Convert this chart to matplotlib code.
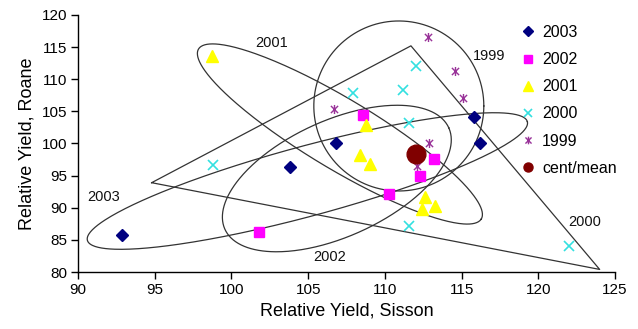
import numpy as np
import matplotlib
matplotlib.use("Agg")
import matplotlib.pyplot as plt
from matplotlib.path import Path
from matplotlib.lines import Line2D

plt.rcParams['font.family'] = ['Liberation Sans', 'DejaVu Sans']

# ---- data (Relative Yield, Sisson vs Roane) ----
x2003 = [92.9, 103.8, 106.8, 115.8, 116.2]
y2003 = [85.7, 96.3, 100.0, 104.2, 100.0]
x2002 = [101.8, 108.6, 113.2, 112.3, 110.3]
y2002 = [86.3, 104.5, 97.6, 95.0, 92.1]
x2001 = [98.75, 108.8, 108.4, 109.0, 112.6, 113.3, 112.4]
y2001 = [113.6, 102.9, 98.2, 96.8, 91.7, 90.3, 89.8]
x2000 = [98.8, 112.0, 107.9, 111.2, 111.6, 111.6, 122.0]
y2000 = [96.6, 112.0, 107.9, 108.3, 103.2, 87.2, 84.1]
x1999 = [112.8, 114.6, 115.1, 106.7, 112.9, 112.1]
y1999 = [116.5, 111.3, 107.1, 105.3, 100.0, 96.5]
cent_x = [112.0]
cent_y = [98.4]

# envelope ellipses: name, centre x, centre y, semi-major, semi-minor (x units, screen-true), angle (deg)
ell_names = ['2003', '2001', '2002', '1999']
ell_cx = [104.95, 107.07, 106.87, 110.91]
ell_cy = [94.16, 101.48, 94.55, 105.84]
ell_a = [14.85, 10.75, 8.01, 5.54]
ell_b = [2.28, 2.28, 3.78, 5.54]
ell_ang = [15.1, -31.0, 24.4, 0.0]

# 2000 envelope triangle
tri_x = [94.8, 111.7, 124.0]
tri_y = [93.9, 115.2, 80.4]

# envelope labels
lab_text = ['2001', '1999', '2003', '2002', '2000']
lab_x = [102.6, 116.8, 91.67, 106.4, 123.0]
lab_y = [115.6, 113.6, 91.6, 82.4, 87.8]

xticks = [90, 95, 100, 105, 110, 115, 120, 125]
yticks = [80, 85, 90, 95, 100, 105, 110, 115, 120]

# ---- figure ----
W, H, DPI = 6.38, 3.29, 100
fig = plt.figure(figsize=(W, H), dpi=DPI)
pos = [78 / 638, (329 - 272) / 329, (615 - 78) / 638, (272 - 15) / 329]
ax = fig.add_axes(pos)
ax.set_xlim(90, 125)
ax.set_ylim(80, 120)

# screen aspect: pixels per x unit / pixels per y unit
ppx = W * DPI * pos[2] / 35.0
ppy = H * DPI * pos[3] / 40.0
ratio = ppx / ppy

edge = '#333333'
t = np.linspace(0, 2 * np.pi, 400)
for cx, cy, a, b, ang in zip(ell_cx, ell_cy, ell_a, ell_b, ell_ang):
    th = np.radians(ang)
    dx = a * np.cos(t) * np.cos(th) - b * np.sin(t) * np.sin(th)
    dy = (a * np.cos(t) * np.sin(th) + b * np.sin(t) * np.cos(th)) * ratio
    ax.plot(cx + dx, cy + dy, color=edge, lw=0.9, zorder=2)

ax.plot(tri_x + tri_x[:1], tri_y + tri_y[:1], color=edge, lw=0.9, zorder=2)

for s, xx, yy in zip(lab_text, lab_x, lab_y):
    ax.text(xx, yy, s, ha='center', va='center', fontsize=10.5, color='#111111', zorder=3)

star = Path([(-1, -1), (1, 1), (-1, 1), (1, -1), (0, -1.25), (0, 1.25)],
            [Path.MOVETO, Path.LINETO, Path.MOVETO, Path.LINETO, Path.MOVETO, Path.LINETO])

c2003, c2002, c2001, c2000, c1999, ccent = '#000080', '#FF00FF', '#FFFF00', '#33E0E0', '#993399', '#800000'

ax.plot(x2003, y2003, 'D', color=c2003, ms=6, ls='none', zorder=4)
ax.plot(x2002, y2002, 's', color=c2002, ms=6.5, ls='none', zorder=4)
ax.plot(x2001, y2001, '^', color=c2001, ms=8, ls='none', zorder=4)
ax.plot(x2000, y2000, 'x', color=c2000, ms=6.5, mew=1.2, ls='none', zorder=4)
ax.plot(x1999, y1999, marker=star, color=c1999, ms=6.5, mew=1.0, ls='none', zorder=4)
ax.plot(cent_x, cent_y, 'o', color=ccent, ms=13.5, ls='none', zorder=5)

ax.spines['top'].set_visible(False)
ax.spines['right'].set_visible(False)
for sp in ('left', 'bottom'):
    ax.spines[sp].set_linewidth(1.0)
    ax.spines[sp].set_color('black')
ax.set_xticks(xticks)
ax.set_yticks(yticks)
ax.tick_params(direction='out', length=5, width=1.0, labelsize=11, color='black', pad=3)
ax.set_xlabel('Relative Yield, Sisson', fontsize=13, labelpad=4)
ax.set_ylabel('Relative Yield, Roane', fontsize=13, labelpad=4)

handles = [
    Line2D([], [], marker='D', color=c2003, ls='none', ms=5.5),
    Line2D([], [], marker='s', color=c2002, ls='none', ms=6),
    Line2D([], [], marker='^', color=c2001, ls='none', ms=7),
    Line2D([], [], marker='x', color=c2000, ls='none', ms=6, mew=1.2),
    Line2D([], [], marker=star, color=c1999, ls='none', ms=5.5, mew=1.0),
    Line2D([], [], marker='o', color=ccent, ls='none', ms=6.5),
]
labels = ['2003', '2002', '2001', '2000', '1999', 'cent/mean']
fig.legend(handles, labels, loc='upper left', bbox_to_anchor=(522 / 638, 1 - 25 / 329),
           frameon=False, fontsize=11.5, handlelength=0.8, handletextpad=0.45,
           labelspacing=0.76, borderpad=0.0, borderaxespad=0.0)

fig.savefig('out.png', dpi=DPI)
